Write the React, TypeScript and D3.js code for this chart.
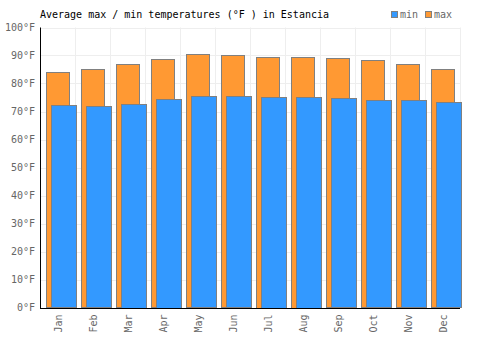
import * as d3 from "d3";

const months = ["Jan", "Feb", "Mar", "Apr", "May", "Jun", "Jul", "Aug", "Sep", "Oct", "Nov", "Dec"];
const maxTemps = [84.0, 85.1, 86.8, 88.6, 90.4, 90.1, 89.5, 89.5, 89.0, 88.3, 86.9, 85.1];
const minTemps = [72.2, 71.9, 72.7, 74.5, 75.5, 75.5, 75.2, 75.2, 74.8, 74.0, 74.0, 73.3];
const yTicks = [0, 10, 20, 30, 40, 50, 60, 70, 80, 90, 100];

const W = 500;
const H = 350;
const margin = { top: 27.5, right: 40, bottom: 42.5, left: 40 };
const font = "'DejaVu Sans Mono', monospace";

export default function App() {
  const x = d3.scaleBand<string>().domain(months).range([margin.left, W - margin.right]);
  const y = d3.scaleLinear().domain([0, 100]).range([H - margin.bottom, margin.top]);
  const bw = x.bandwidth();
  const base = y(0);

  return (
    <svg width={W} height={H} style={{ position: "absolute", left: 0, top: 0, background: "#fff" }}>
      {/* grid */}
      {yTicks.map((t) => (
        <line key={"h" + t} x1={margin.left} x2={W - margin.right} y1={Math.round(y(t)) + 0.5} y2={Math.round(y(t)) + 0.5} stroke="#eeeeee" />
      ))}
      {months.map((m) => (
        <line key={"v" + m} x1={Math.round(x(m)! + bw) + 0.5} x2={Math.round(x(m)! + bw) + 0.5} y1={margin.top} y2={base} stroke="#eeeeee" />
      ))}

      {/* max bars */}
      {months.map((m, i) => (
        <rect key={"max" + m} x={Math.round(x(m)! + bw * 6 / 35) + 0.5} width={Math.round(bw * 23 / 35)}
          y={Math.round(y(maxTemps[i])) + 0.5} height={Math.round(base - y(maxTemps[i]))}
          fill="#ff9933" stroke="#808080" />
      ))}
      {/* min bars */}
      {months.map((m, i) => (
        <rect key={"min" + m} x={Math.round(x(m)! + bw * 11 / 35) + 0.5} width={Math.round(bw * 25 / 35)}
          y={Math.round(y(minTemps[i])) + 0.5} height={Math.round(base - y(minTemps[i]))}
          fill="#3399ff" stroke="#808080" />
      ))}

      {/* axes */}
      <line x1={margin.left + 0.5} x2={margin.left + 0.5} y1={margin.top} y2={Math.round(base) + 1} stroke="#000" />
      <line x1={margin.left} x2={W - margin.right} y1={Math.round(base) + 0.5} y2={Math.round(base) + 0.5} stroke="#000" />

      {yTicks.map((t) => (
        <text key={"yl" + t} x={margin.left - 5} y={y(t)} dy="0.35em" textAnchor="end"
          fontFamily={font} fontSize={10} fill="#666">{t}°F</text>
      ))}
      {months.map((m) => (
        <text key={"xl" + m} transform={`translate(${x(m)! + bw / 2 + 1},${base + 7}) rotate(-90)`}
          dy="0.35em" textAnchor="end" fontFamily={font} fontSize={10} fill="#666">{m}</text>
      ))}

      {/* title */}
      <text x={40} y={18} fontFamily={font} fontSize={10} fill="#000">Average max / min temperatures (°F ) in Estancia</text>

      {/* legend */}
      <rect x={391.5} y={11.5} width={6} height={6} fill="#3399ff" stroke="#808080" />
      <text x={400} y={18} fontFamily={font} fontSize={10} fill="#666">min</text>
      <rect x={425.5} y={11.5} width={6} height={6} fill="#ff9933" stroke="#808080" />
      <text x={434} y={18} fontFamily={font} fontSize={10} fill="#666">max</text>
    </svg>
  );
}
